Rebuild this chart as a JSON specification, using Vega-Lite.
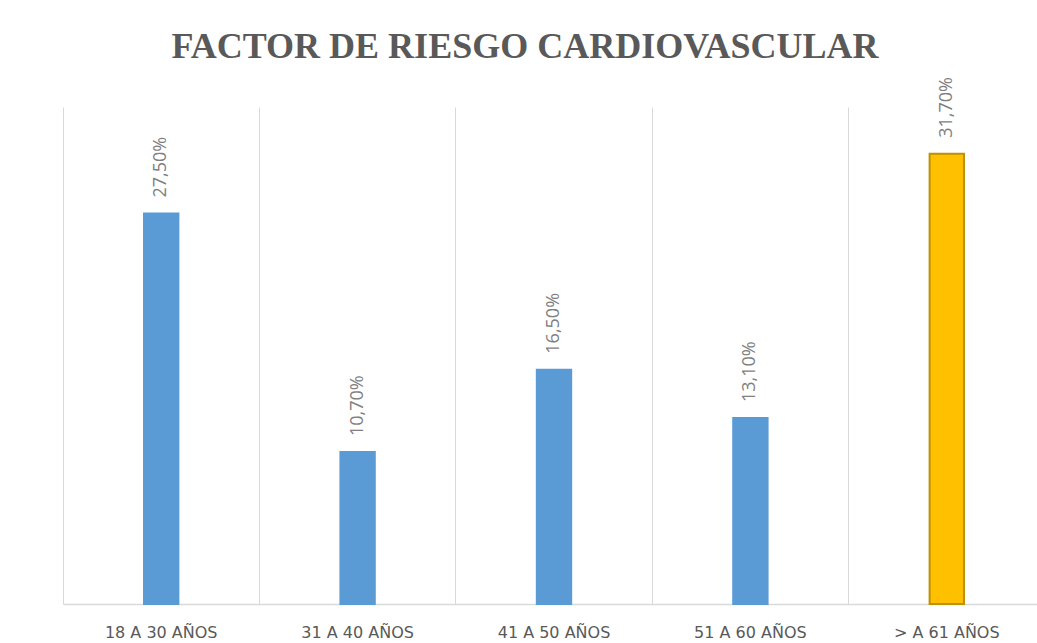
{
  "$schema": "https://vega.github.io/schema/vega-lite/v6.json",
  "autosize": {"type": "none"},
  "width": 974,
  "height": 497,
  "padding": {"left": 63, "top": 107, "right": 0, "bottom": 39},
  "background": "white",
  "title": {
    "text": "FACTOR DE RIESGO CARDIOVASCULAR",
    "font": "Liberation Serif",
    "fontSize": 36,
    "fontWeight": "bold",
    "color": "#595959",
    "anchor": "middle",
    "frame": "group",
    "dx": -25,
    "offset": 11
  },
  "data": {
    "values": [
      {"grupo": "18 A 30 AÑOS", "valor": 27.5, "etiqueta": "27,50%"},
      {"grupo": "31 A 40 AÑOS", "valor": 10.7, "etiqueta": "10,70%"},
      {"grupo": "41 A 50 AÑOS", "valor": 16.5, "etiqueta": "16,50%"},
      {"grupo": "51 A 60 AÑOS", "valor": 13.1, "etiqueta": "13,10%"},
      {"grupo": "> A 61 AÑOS", "valor": 31.7, "etiqueta": "31,70%"}
    ]
  },
  "encoding": {
    "x": {
      "field": "grupo",
      "type": "nominal",
      "sort": null,
      "scale": {"range": [0, 982], "paddingInner": 0, "paddingOuter": 0},
      "axis": {
        "title": null,
        "labelAngle": 0,
        "labelFont": "DejaVu Sans",
        "labelFontSize": 16,
        "labelColor": "#595959",
        "labelPadding": 20,
        "ticks": false,
        "grid": true,
        "bandPosition": 0,
        "gridColor": "#D9D9D9",
        "gridWidth": 1,
        "domainColor": "#D9D9D9",
        "domainWidth": 1.5
      }
    },
    "y": {
      "field": "valor",
      "type": "quantitative",
      "scale": {"domain": [0, 35], "nice": false},
      "axis": null
    }
  },
  "layer": [
    {
      "mark": {"type": "bar", "width": {"band": 0.175}, "strokeWidth": 2},
      "encoding": {
        "color": {
          "field": "grupo",
          "type": "nominal",
          "sort": null,
          "scale": {
            "domain": ["18 A 30 AÑOS", "31 A 40 AÑOS", "41 A 50 AÑOS", "51 A 60 AÑOS", "> A 61 AÑOS"],
            "range": ["#5B9BD5", "#5B9BD5", "#5B9BD5", "#5B9BD5", "#FFC000"]
          },
          "legend": null
        },
        "stroke": {
          "field": "grupo",
          "type": "nominal",
          "sort": null,
          "scale": {
            "domain": ["18 A 30 AÑOS", "31 A 40 AÑOS", "41 A 50 AÑOS", "51 A 60 AÑOS", "> A 61 AÑOS"],
            "range": ["#5B9BD5", "#5B9BD5", "#5B9BD5", "#5B9BD5", "#BF9000"]
          },
          "legend": null
        }
      }
    },
    {
      "mark": {
        "type": "text",
        "angle": 270,
        "align": "left",
        "baseline": "middle",
        "dx": 16,
        "font": "Open Sans",
        "fontSize": 18,
        "color": "#7F7F7F"
      },
      "encoding": {
        "text": {"field": "etiqueta"}
      }
    }
  ],
  "config": {"view": {"stroke": null}}
}
